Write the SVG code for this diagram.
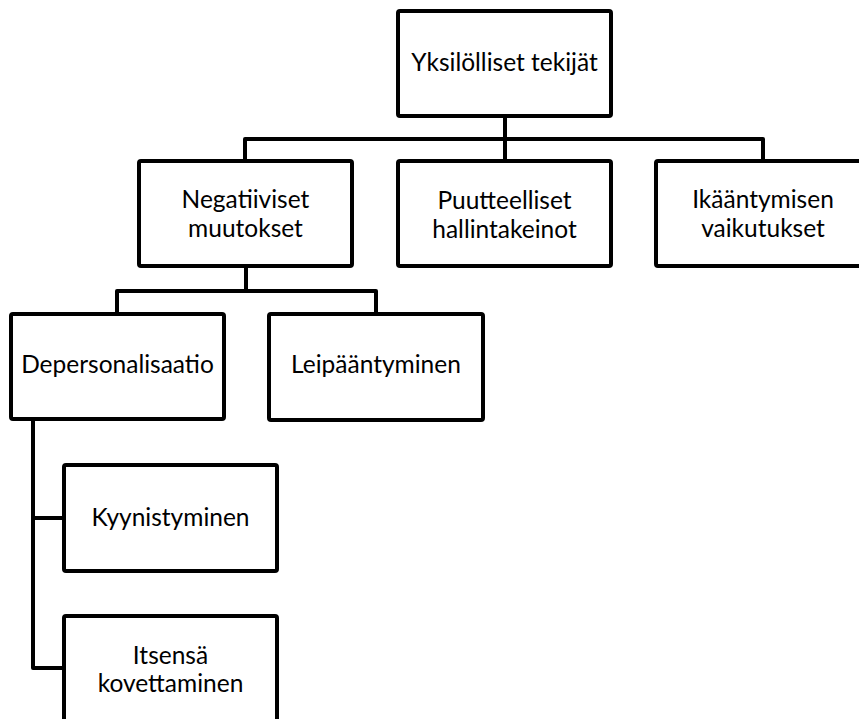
<svg xmlns="http://www.w3.org/2000/svg" width="859" height="719" viewBox="0 0 859 719">
<style>
.box{fill:#fff;stroke:#000;stroke-width:4}
.t{font-family:Lato,"Open Sans","Liberation Sans",sans-serif;font-size:24.5px;fill:#000;text-anchor:middle}
.c{fill:none;stroke:#000;stroke-width:4;stroke-linejoin:round;stroke-linecap:butt}
</style>
<rect width="859" height="719" fill="#fff"/>
<g id="connectors">
<path class="c" d="M505 116V139M245 161V139H763V161M505 139V161"/>
<path class="c" d="M246 266V291M117 312V291H376V312"/>
<path class="c" d="M33 419V668H64M33 518H64"/>
</g>
<g id="n-yksilolliset"><rect class="box" x="398" y="11" width="213" height="105" rx="2"/><text class="t" x="504.5" y="71">Yksilölliset tekijät</text></g>
<g id="n-negatiiviset"><rect class="box" x="139" y="161" width="213" height="105" rx="2"/><text class="t" x="245.5" y="208">Negatiiviset</text><text class="t" x="245.5" y="237">muutokset</text></g>
<g id="n-puutteelliset"><rect class="box" x="398" y="161" width="213" height="105" rx="2"/><text class="t" x="504.5" y="209">Puutteelliset</text><text class="t" x="504.5" y="238">hallintakeinot</text></g>
<g id="n-ikaantymisen"><rect class="box" x="656" y="161" width="214" height="105" rx="2"/><text class="t" x="763" y="208">Ikääntymisen</text><text class="t" x="763" y="237">vaikutukset</text></g>
<g id="n-depersonalisaatio"><rect class="box" x="11" y="314" width="213" height="105" rx="2"/><text class="t" x="117.5" y="373">Depersonalisaatio</text></g>
<g id="n-leipaantyminen"><rect class="box" x="269" y="314" width="214" height="106" rx="2"/><text class="t" x="376" y="373">Leipääntyminen</text></g>
<g id="n-kyynistyminen"><rect class="box" x="64" y="465" width="213" height="106" rx="2"/><text class="t" x="170.5" y="526">Kyynistyminen</text></g>
<g id="n-itsensa"><rect class="box" x="64" y="616" width="213" height="110" rx="2"/><text class="t" x="170.5" y="664">Itsensä</text><text class="t" x="170.5" y="692">kovettaminen</text></g>
</svg>
